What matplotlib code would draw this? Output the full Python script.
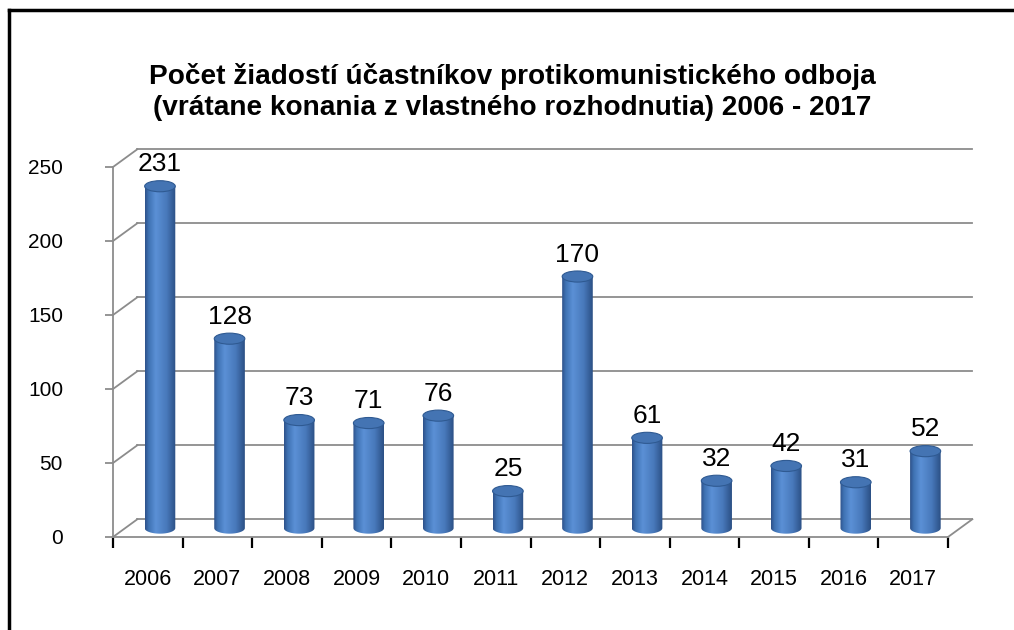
import matplotlib
matplotlib.use("Agg")
import matplotlib.pyplot as plt
import numpy as np
from matplotlib.patches import Polygon, Ellipse
from matplotlib.colors import LinearSegmentedColormap
from matplotlib.lines import Line2D

plt.rcParams['font.family'] = ['Liberation Sans', 'DejaVu Sans']

years = ['2006', '2007', '2008', '2009', '2010', '2011',
         '2012', '2013', '2014', '2015', '2016', '2017']
counts = [231, 128, 73, 71, 76, 25, 170, 61, 32, 42, 31, 52]
yticks = [0, 50, 100, 150, 200, 250]
title = ("Počet žiadostí účastníkov protikomunistického odboja\n"
         "(vrátane konania z vlastného rozhodnutia) 2006 - 2017")

# fake 3d depth offset (x in categories, y in value units)
ox, oy = 0.35, 12.0
bar_w = 0.44
ell_h = 7.5
grid_c = '#8c8c8c'

cyl = LinearSegmentedColormap.from_list('cyl', [
    (0.0, '#2d5189'), (0.12, '#3f72b3'), (0.35, '#5b90d6'),
    (0.7, '#4879bb'), (1.0, '#2b4f84')])
grad = np.linspace(0, 1, 256).reshape(1, -1)

fig = plt.figure(figsize=(10.14, 6.30), dpi=100)
ax = fig.add_axes([113 / 1014, 93 / 630, 835 / 1014, 370 / 630])
n = len(years)
x = np.arange(n)

# back wall grid + side wall diagonals
for g in yticks:
    ax.plot([-0.5, -0.5 + ox], [g, g + oy], color=grid_c, lw=1.3, clip_on=False, zorder=1)
    ax.plot([-0.5 + ox, n - 0.5 + ox], [g + oy, g + oy], color=grid_c, lw=1.3,
            clip_on=False, zorder=1)
# floor
ax.plot([-0.5, n - 0.5], [0, 0], color=grid_c, lw=1.3, clip_on=False, zorder=5)
ax.plot([n - 0.5, n - 0.5 + ox], [0, oy], color=grid_c, lw=1.3, clip_on=False, zorder=5)

# cylinders
base = oy / 2
t = np.linspace(np.pi, 2 * np.pi, 40)
for i, v in enumerate(counts):
    c = i + ox / 2
    arc = np.column_stack([c + bar_w / 2 * np.cos(t), base + ell_h / 2 * np.sin(t)])
    pts = np.vstack([arc, [[c + bar_w / 2, base + v], [c - bar_w / 2, base + v]]])
    body = Polygon(pts, closed=True, facecolor='none', edgecolor='none', zorder=3)
    ax.add_patch(body)
    im = ax.imshow(grad, cmap=cyl, aspect='auto', zorder=3,
                   extent=[c - bar_w / 2, c + bar_w / 2, base - ell_h / 2, base + v])
    im.set_clip_path(body)
    ax.add_patch(Ellipse((c, base + v), bar_w, ell_h, facecolor='#4474b3',
                         edgecolor='#2f5a92', lw=0.8, zorder=4))
    ax.text(c, base + v + ell_h / 2 + 3, str(v), ha='center', va='bottom',
            fontsize=19, zorder=6)

ax.set_xlim(-0.5, n - 0.5)
ax.set_ylim(0, 250)

for s in ['top', 'right']:
    ax.spines[s].set_visible(False)
ax.spines['left'].set_color(grid_c)
ax.spines['left'].set_linewidth(1.3)
ax.spines['bottom'].set_visible(False)

ax.set_yticks(yticks)
ax.tick_params(axis='y', length=6, width=1.3, color=grid_c, labelsize=15, pad=30)
ax.set_xticks(np.arange(-0.5, n, 1.0))
ax.set_xticklabels([])
ax.tick_params(axis='x', length=8, width=1.6, color='black')
ax.set_xticks(x, minor=True)
ax.set_xticklabels(years, minor=True)
ax.tick_params(axis='x', which='minor', length=0, labelsize=15.5, pad=23)

fig.text(0.505, 0.854, title, ha='center', va='center', fontsize=20.2,
         fontweight='bold', linespacing=1.22)

# chart frame (left and top edges visible)
fig.add_artist(Line2D([9 / 1014, 9 / 1014], [0, 1 - 10 / 630], color='black', lw=2.5))
fig.add_artist(Line2D([9 / 1014, 1], [1 - 10 / 630, 1 - 10 / 630], color='black', lw=2.5))

fig.savefig('out.png', dpi=100)
